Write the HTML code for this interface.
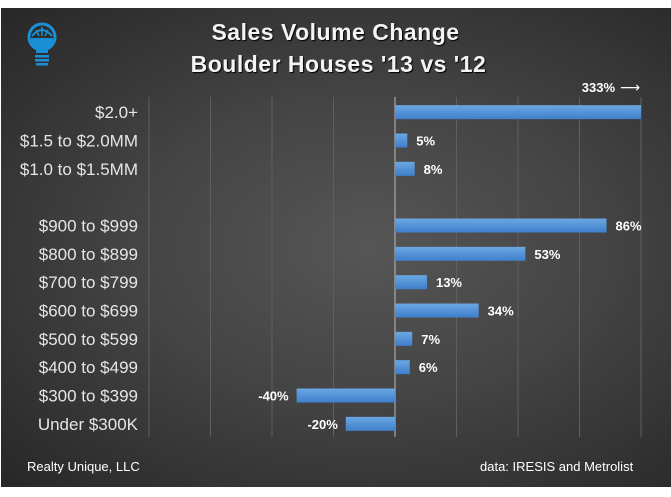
<!DOCTYPE html>
<html><head><meta charset="utf-8"><style>
html,body{margin:0;padding:0;background:#fff;}
#chart{position:relative;width:671px;height:497px;overflow:hidden;background:#fff;font-family:"Liberation Sans",sans-serif;}
#bg{position:absolute;left:1px;top:8px;width:670px;height:479px;background:radial-gradient(ellipse at 55% 50%,#565656 0%,#444 45%,#272727 100%);}
.t{position:absolute;color:#f4f4f4;font-weight:bold;font-size:23px;letter-spacing:0.5px;text-align:center;width:671px;left:0;text-shadow:1px 1px 1px #000;}
.foot{position:absolute;color:#fff;font-size:13px;top:459px;}
</style></head><body>
<div id="chart">
<div id="bg"></div>
<svg style="position:absolute;left:24px;top:22px" width="36" height="46" viewBox="0 0 36 46">
<circle cx="18" cy="15" r="13" fill="none" stroke="#1a8fd6" stroke-width="3"/>
<path d="M7,16 A11,11 0 0 0 12,26 L12,31 L24,31 L24,26 A11,11 0 0 0 29,16 Z" fill="#1a8fd6"/>
<path d="M8,14 Q18,2 28,14" fill="none" stroke="#1a8fd6" stroke-width="2"/>
<path d="M18,5 V14 M12,8 L15,14 M24,8 L21,14" stroke="#1a8fd6" stroke-width="1.5"/>
<rect x="11" y="33" width="14" height="2.5" fill="#1a8fd6"/><rect x="11" y="37" width="14" height="2.5" fill="#1a8fd6"/><rect x="12" y="41" width="12" height="2.5" fill="#1a8fd6"/>
</svg>
<div class="t" style="top:19px">Sales Volume Change</div>
<div class="t" style="top:51px;left:3px">Boulder Houses '13 vs '12</div>
<svg id="plot" style="position:absolute;left:0;top:0" width="671" height="497"></svg>
<div class="foot" style="left:27px">Realty Unique, LLC</div>
<div class="foot" style="left:480px">data: IRESIS and Metrolist</div>
</div>
<script>
const categories=["$2.0+","$1.5 to $2.0MM","$1.0 to $1.5MM","","$900 to $999","$800 to $899","$700 to $799","$600 to $699","$500 to $599","$400 to $499","$300 to $399","Under $300K"];
const values=[333,5,8,null,86,53,13,34,7,6,-40,-20];
const valueLabels=["333%","5%","8%","","86%","53%","13%","34%","7%","6%","-40%","-20%"];
const gridTicks=[-100,-75,-50,-25,0,25,50,75,100];
const xMin=-100,xMax=100,pL=149,pR=641,pT=97,pB=437;
const NS="http://www.w3.org/2000/svg";
const svg=document.getElementById('plot');
function x(v){return pL+(Math.max(xMin,Math.min(xMax,v))-xMin)/(xMax-xMin)*(pR-pL);}
const band=(pB-pT)/categories.length;
function yc(i){return pT+band*(i+0.5)+1;}
function mk(tag,a){const e=document.createElementNS(NS,tag);for(const k in a)e.setAttribute(k,a[k]);svg.appendChild(e);return e;}
const defs=mk('defs',{});
defs.innerHTML='<linearGradient id="bg1" x1="0" y1="0" x2="0" y2="1"><stop offset="0" stop-color="#6aa7e2"/><stop offset="1" stop-color="#3f7fcc"/></linearGradient>';
gridTicks.forEach(t=>{
 const l=mk('line',{x1:x(t),x2:x(t),y1:pT,y2:pB,stroke:t===0?'#bbb':'#5f5f5f','stroke-width':1});
 
 
});
categories.forEach((c,i)=>{
 if(c){
  const tx=mk('text',{x:138,y:yc(i)+6,'text-anchor':'end',fill:'#e6e6e6','font-size':17,'font-family':'Liberation Sans, sans-serif'});
  tx.textContent=c;
  
  
 }
 const v=values[i];
 if(v===null)return;
 const x0=x(0),x1=x(v);
 const r=mk('rect',{x:Math.min(x0,x1),y:yc(i)-7,width:Math.abs(x1-x0),height:14,fill:'url(#bg1)'});
 
 
 let lx,anchor,ly=yc(i)+5;
 if(v>xMax){lx=615;anchor='end';ly=yc(i)-20;}
 else if(v>=0){lx=x1+9;anchor='start';}
 else{lx=x1-8;anchor='end';}
 const vt=mk('text',{x:lx,y:ly,'text-anchor':anchor,fill:'#fff','font-size':13,'font-weight':'bold','font-family':'Liberation Sans, sans-serif'});
 vt.textContent=valueLabels[i];
 
 
 if(v>xMax){
  const a=mk('text',{x:620,y:ly,fill:'#fff','font-size':14,'font-family':'DejaVu Sans, sans-serif'});
  a.textContent='⟶';
  
  
 }
});
</script>
</body></html>
